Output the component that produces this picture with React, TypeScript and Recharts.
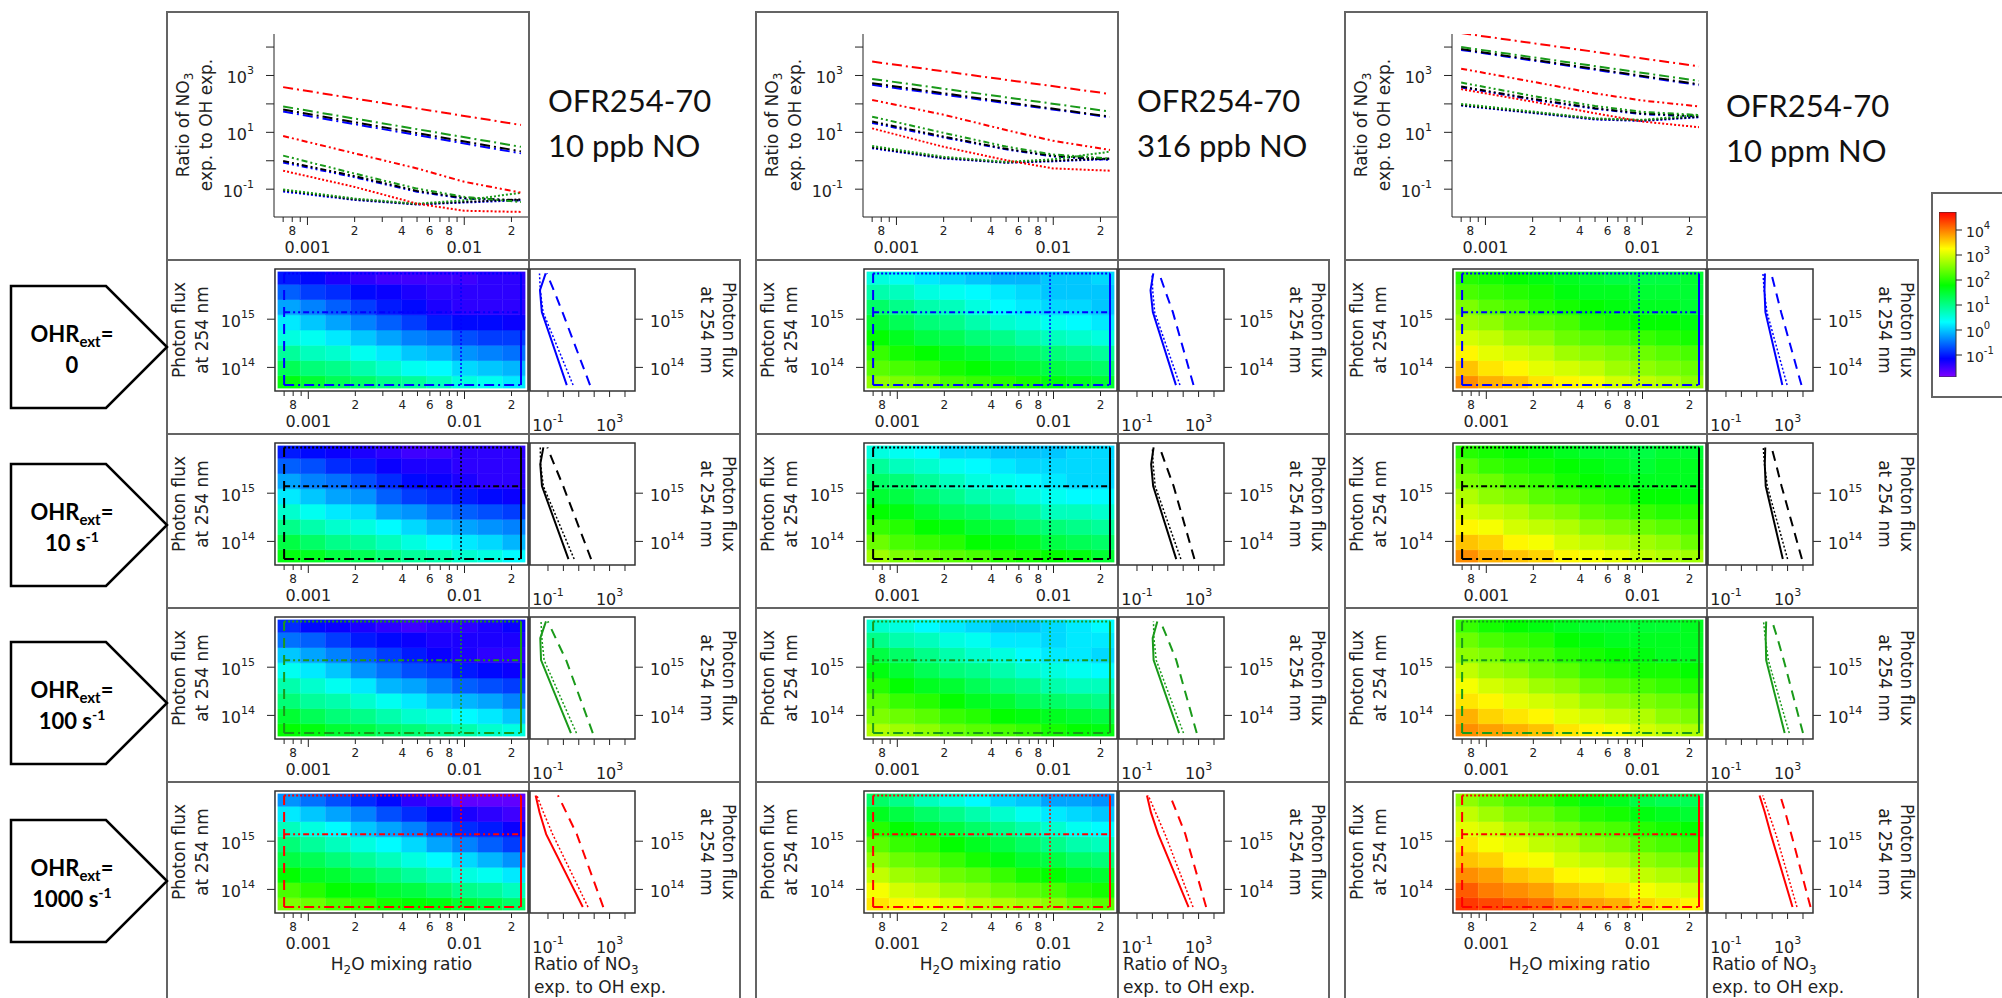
import React from 'react';
import { ComposedChart, Line, Bar, Cell, XAxis, YAxis } from 'recharts';

// ---------- page layout (px) ----------
const colLeft = [167, 756, 1345];
const rowTop = [260, 434, 608, 782];
const arrowTop = [286, 464, 642, 820];

// ---------- labels ----------
const reactorTitle = 'OFR254-70';
const noLabels = ['10 ppb NO', '316 ppb NO', '10 ppm NO'];
const ohrValues = ['0', '10 s', '100 s', '1000 s'];
const ohrExponents = ['', '-1', '-1', '-1'];
const seriesColors = ['#0000ff', '#000000', '#1a9a1a', '#ff0000']; // OHRext = 0, 10, 100, 1000 s-1

// ---------- axes ----------
const h2oDomain = [0.000612, 0.0255];
const h2oTicks = [0.0007, 0.0008, 0.0009, 0.001, 0.002, 0.003, 0.004, 0.005, 0.006, 0.007, 0.008, 0.009, 0.01, 0.02];
const h2oMinorText = ['', '8', '', '', '2', '', '4', '', '6', '', '8', '', '', '2'];
const h2oMajorText = ['', '', '', '0.001', '', '', '', '', '', '', '', '', '0.01', ''];
const ratioDomainTop = [0.0105, 28800];
const sideRatioDomain = [0.0079, 44700];
const decadeTicks = [0.1, 1, 10, 100, 1000, 10000];
const fluxDomain = [3.24e13, 1.1e16];
const fluxTicks = [1e14, 1e15];
const colorbarRange = [-1.88, 4.72]; // log10 of the ratio, bottom..top
const colorbarTicks = [-1, 0, 1, 2, 3, 4];

// ---------- curve samples ----------
const h2oSpan = [0.0007, 0.023];
const h2oSamples = [0.0007, 0.002, 0.005, 0.01, 0.023];
const fluxLevels = [4.3e13, 1.4e15, 8.9e15]; // low, mid, high photon flux
const h2oLevels = [0.0007, 0.0095, 0.023]; // dashed, dotted, solid
const fluxSamples = [4.3e13, 1.4e15, 4.0e15, 8.9e15];

// log10(NO3 exp. / OH exp.) vs H2O; rows: OHRext 0, 10, 100, 1000 s-1
const ratio10ppbLow = [[1.73, 0.26], [1.8, 0.33], [1.91, 0.49], [2.59, 1.26]];
const ratio10ppbMid = [
  [-0.06, -0.58, -1.09, -1.33, -1.4],
  [-0.01, -0.54, -1.06, -1.31, -1.39],
  [0.18, -0.45, -0.98, -1.27, -1.45],
  [0.87, 0.26, -0.27, -0.74, -1.12],
];
const ratio10ppbHigh = [
  [-1.08, -1.38, -1.54, -1.47, -1.39],
  [-1.04, -1.36, -1.53, -1.45, -1.36],
  [-1.01, -1.33, -1.51, -1.39, -1.13],
  [-0.35, -0.92, -1.51, -1.76, -1.8],
];
const ratio316ppbLow = [[2.67, 1.53], [2.73, 1.55], [2.88, 1.73], [3.49, 2.35]];
const ratio316ppbMid = [
  [1.33, 0.82, 0.4, 0.15, 0.03],
  [1.38, 0.85, 0.42, 0.17, 0.05],
  [1.55, 0.98, 0.5, 0.22, 0.08],
  [2.14, 1.62, 1.08, 0.7, 0.38],
];
const ratio316ppbHigh = [
  [0.44, 0.08, -0.07, -0.02, 0.06],
  [0.47, 0.1, -0.06, 0.0, 0.08],
  [0.52, 0.14, -0.04, 0.05, 0.32],
  [1.14, 0.49, 0.02, -0.27, -0.35],
];
const ratio10ppmLow = [[3.9, 2.66], [3.93, 2.69], [4.0, 2.81], [4.49, 3.32]];
const ratio10ppmMid = [
  [2.58, 2.15, 1.83, 1.64, 1.56],
  [2.61, 2.18, 1.85, 1.66, 1.58],
  [2.75, 2.28, 1.93, 1.72, 1.61],
  [3.24, 2.78, 2.37, 2.12, 1.91],
];
const ratio10ppmHigh = [
  [1.94, 1.68, 1.45, 1.4, 1.53],
  [1.96, 1.7, 1.47, 1.42, 1.55],
  [2.0, 1.73, 1.49, 1.44, 1.61],
  [2.52, 2.08, 1.67, 1.38, 1.18],
];

// log10 ratio vs photon flux (fluxSamples) at the three H2O levels
const side10ppbDashed = [[1.73, -0.06, -0.62, -1.08], [1.8, -0.01, -0.6, -1.04], [1.91, 0.18, -0.5, -1.01], [2.59, 0.87, 0.18, -0.35]];
const side10ppbDotted = [[0.63, -1.32, -1.5, -1.55], [0.7, -1.3, -1.48, -1.5], [0.85, -1.25, -1.4, -1.45], [1.6, -0.7, -1.3, -1.72]];
const side10ppbSolid = [[0.22, -1.4, -1.52, -1.15], [0.33, -1.39, -1.5, -1.3], [0.49, -1.45, -1.5, -1.13], [1.26, -1.12, -1.55, -1.8]];
const side316ppbDashed = [[2.67, 1.33, 0.82, 0.44], [2.73, 1.38, 0.86, 0.47], [2.88, 1.55, 0.98, 0.52], [3.49, 2.14, 1.58, 1.14]];
const side316ppbDotted = [[1.79, 0.15, 0.02, -0.02], [1.85, 0.18, 0.05, 0.0], [2.02, 0.25, 0.1, 0.07], [2.64, 0.82, 0.2, -0.27]];
const side316ppbSolid = [[1.53, 0.03, -0.12, 0.06], [1.55, 0.05, -0.08, 0.08], [1.73, 0.08, 0.02, 0.32], [2.35, 0.38, -0.1, -0.35]];
const side10ppmDashed = [[3.9, 2.58, 2.22, 1.94], [3.93, 2.61, 2.25, 1.96], [4.0, 2.75, 2.34, 2.0], [4.49, 3.24, 2.85, 2.52]];
const side10ppmDotted = [[2.97, 1.66, 1.48, 1.4], [3.0, 1.68, 1.5, 1.42], [3.11, 1.75, 1.55, 1.44], [3.61, 2.24, 1.75, 1.38]];
const side10ppmSolid = [[2.66, 1.56, 1.5, 1.53], [2.69, 1.58, 1.52, 1.55], [2.81, 1.61, 1.58, 1.61], [3.32, 1.91, 1.52, 1.18]];

// heat maps: log10 ratio, 8 flux rows (bottom -> top) x 10 H2O columns
const map10ppb0 = [
  [1.7, 1.5, 1.3, 1.2, 1.0, 0.9, 0.7, 0.5, 0.4, 0.2],
  [1.3, 1.1, 1.0, 0.8, 0.6, 0.4, 0.3, 0.1, 0.0, -0.1],
  [0.9, 0.7, 0.6, 0.4, 0.2, 0.0, -0.1, -0.3, -0.4, -0.5],
  [0.5, 0.4, 0.2, 0.0, -0.2, -0.4, -0.5, -0.7, -0.8, -0.8],
  [0.2, 0.0, -0.2, -0.4, -0.6, -0.8, -1.0, -1.1, -1.1, -1.2],
  [-0.2, -0.4, -0.6, -0.8, -1.0, -1.1, -1.3, -1.4, -1.4, -1.4],
  [-0.6, -0.8, -0.9, -1.1, -1.2, -1.3, -1.4, -1.4, -1.4, -1.4],
  [-1.0, -1.1, -1.3, -1.4, -1.5, -1.5, -1.5, -1.5, -1.4, -1.4],
];
const map10ppb10 = [
  [1.7, 1.6, 1.4, 1.3, 1.1, 0.9, 0.8, 0.6, 0.5, 0.3],
  [1.4, 1.2, 1.0, 0.9, 0.7, 0.5, 0.3, 0.2, 0.1, -0.1],
  [1.0, 0.8, 0.6, 0.5, 0.3, 0.1, -0.1, -0.2, -0.3, -0.4],
  [0.6, 0.4, 0.2, 0.1, -0.2, -0.3, -0.5, -0.6, -0.7, -0.8],
  [0.2, 0.0, -0.2, -0.3, -0.6, -0.8, -0.9, -1.0, -1.1, -1.2],
  [-0.2, -0.4, -0.5, -0.7, -0.9, -1.1, -1.2, -1.3, -1.4, -1.4],
  [-0.6, -0.7, -0.9, -1.0, -1.2, -1.3, -1.3, -1.4, -1.4, -1.4],
  [-1.0, -1.1, -1.2, -1.3, -1.4, -1.5, -1.5, -1.4, -1.4, -1.4],
];
const map10ppb100 = [
  [1.8, 1.7, 1.5, 1.4, 1.2, 1.1, 0.9, 0.8, 0.6, 0.5],
  [1.5, 1.3, 1.1, 1.0, 0.8, 0.6, 0.5, 0.3, 0.2, 0.0],
  [1.1, 0.9, 0.8, 0.6, 0.4, 0.2, 0.0, -0.1, -0.2, -0.4],
  [0.8, 0.6, 0.4, 0.2, -0.1, -0.2, -0.4, -0.6, -0.7, -0.8],
  [0.4, 0.2, 0.0, -0.3, -0.5, -0.7, -0.8, -1.0, -1.1, -1.2],
  [0.0, -0.2, -0.4, -0.6, -0.8, -1.0, -1.2, -1.3, -1.4, -1.4],
  [-0.5, -0.6, -0.8, -1.0, -1.1, -1.2, -1.3, -1.3, -1.3, -1.3],
  [-0.9, -1.1, -1.2, -1.3, -1.4, -1.5, -1.4, -1.4, -1.3, -1.2],
];
const map10ppb1000 = [
  [2.5, 2.4, 2.2, 2.1, 1.9, 1.8, 1.7, 1.5, 1.4, 1.2],
  [2.2, 2.0, 1.8, 1.7, 1.5, 1.4, 1.2, 1.0, 0.9, 0.7],
  [1.8, 1.6, 1.5, 1.3, 1.1, 0.9, 0.7, 0.5, 0.4, 0.2],
  [1.4, 1.3, 1.1, 0.9, 0.7, 0.5, 0.3, 0.1, -0.1, -0.3],
  [1.1, 0.9, 0.7, 0.5, 0.3, 0.1, -0.2, -0.4, -0.6, -0.8],
  [0.7, 0.5, 0.3, 0.0, -0.2, -0.4, -0.7, -0.9, -1.0, -1.2],
  [0.2, 0.0, -0.2, -0.4, -0.7, -0.9, -1.1, -1.3, -1.4, -1.5],
  [-0.3, -0.5, -0.7, -0.9, -1.1, -1.4, -1.5, -1.7, -1.7, -1.7],
];
const map316ppb0 = [
  [2.6, 2.5, 2.4, 2.2, 2.1, 2.0, 1.9, 1.7, 1.6, 1.5],
  [2.3, 2.2, 2.1, 1.9, 1.8, 1.6, 1.5, 1.4, 1.3, 1.2],
  [2.1, 1.9, 1.8, 1.6, 1.5, 1.3, 1.2, 1.1, 1.0, 0.9],
  [1.8, 1.6, 1.4, 1.3, 1.1, 1.0, 0.8, 0.7, 0.6, 0.5],
  [1.5, 1.3, 1.1, 1.0, 0.8, 0.6, 0.5, 0.4, 0.3, 0.2],
  [1.2, 1.0, 0.8, 0.7, 0.5, 0.3, 0.2, 0.1, 0.1, 0.0],
  [0.8, 0.7, 0.5, 0.4, 0.3, 0.2, 0.1, 0.0, 0.0, 0.0],
  [0.5, 0.4, 0.2, 0.1, 0.0, -0.1, -0.1, 0.0, 0.0, 0.1],
];
const map316ppb10 = [
  [2.7, 2.5, 2.4, 2.3, 2.2, 2.0, 1.9, 1.8, 1.7, 1.5],
  [2.4, 2.2, 2.1, 2.0, 1.8, 1.7, 1.6, 1.4, 1.3, 1.2],
  [2.1, 2.0, 1.8, 1.7, 1.5, 1.4, 1.2, 1.1, 1.0, 0.9],
  [1.8, 1.7, 1.5, 1.3, 1.2, 1.0, 0.9, 0.7, 0.7, 0.6],
  [1.5, 1.4, 1.2, 1.0, 0.8, 0.7, 0.5, 0.4, 0.3, 0.3],
  [1.2, 1.1, 0.9, 0.7, 0.5, 0.4, 0.3, 0.2, 0.1, 0.1],
  [0.9, 0.7, 0.6, 0.4, 0.3, 0.2, 0.1, 0.1, 0.1, 0.1],
  [0.5, 0.4, 0.3, 0.1, 0.1, 0.0, 0.0, 0.0, 0.1, 0.1],
];
const map316ppb100 = [
  [2.8, 2.7, 2.6, 2.4, 2.3, 2.2, 2.1, 1.9, 1.8, 1.7],
  [2.5, 2.4, 2.3, 2.1, 2.0, 1.8, 1.7, 1.6, 1.5, 1.4],
  [2.3, 2.1, 2.0, 1.8, 1.6, 1.5, 1.3, 1.2, 1.1, 1.0],
  [2.0, 1.8, 1.6, 1.5, 1.3, 1.1, 1.0, 0.8, 0.7, 0.7],
  [1.7, 1.5, 1.3, 1.1, 1.0, 0.8, 0.6, 0.5, 0.4, 0.3],
  [1.4, 1.2, 1.0, 0.8, 0.6, 0.5, 0.3, 0.2, 0.2, 0.1],
  [1.0, 0.8, 0.7, 0.5, 0.4, 0.2, 0.2, 0.1, 0.2, 0.2],
  [0.6, 0.5, 0.3, 0.2, 0.1, 0.0, 0.0, 0.1, 0.2, 0.3],
];
const map316ppb1000 = [
  [3.4, 3.3, 3.2, 3.1, 2.9, 2.8, 2.7, 2.6, 2.4, 2.3],
  [3.2, 3.0, 2.9, 2.7, 2.6, 2.4, 2.3, 2.2, 2.0, 1.9],
  [2.9, 2.7, 2.6, 2.4, 2.3, 2.1, 1.9, 1.8, 1.6, 1.5],
  [2.6, 2.4, 2.3, 2.1, 1.9, 1.7, 1.5, 1.4, 1.2, 1.1],
  [2.3, 2.1, 2.0, 1.8, 1.6, 1.4, 1.2, 1.0, 0.8, 0.7],
  [2.0, 1.8, 1.6, 1.4, 1.2, 1.0, 0.8, 0.6, 0.4, 0.3],
  [1.6, 1.4, 1.2, 1.0, 0.8, 0.6, 0.4, 0.2, 0.1, 0.0],
  [1.2, 1.0, 0.7, 0.5, 0.3, 0.1, 0.0, -0.2, -0.2, -0.3],
];
const map10ppm0 = [
  [3.9, 3.7, 3.6, 3.4, 3.3, 3.2, 3.0, 2.9, 2.8, 2.6],
  [3.6, 3.4, 3.3, 3.1, 3.0, 2.9, 2.7, 2.6, 2.5, 2.4],
  [3.3, 3.1, 3.0, 2.9, 2.7, 2.6, 2.5, 2.4, 2.3, 2.2],
  [3.0, 2.9, 2.7, 2.6, 2.4, 2.3, 2.2, 2.1, 2.0, 1.9],
  [2.7, 2.6, 2.4, 2.3, 2.2, 2.0, 1.9, 1.8, 1.8, 1.7],
  [2.5, 2.3, 2.2, 2.0, 1.9, 1.8, 1.7, 1.6, 1.6, 1.5],
  [2.2, 2.1, 2.0, 1.9, 1.7, 1.6, 1.6, 1.5, 1.5, 1.5],
  [2.0, 1.9, 1.8, 1.7, 1.6, 1.5, 1.4, 1.4, 1.4, 1.5],
];
const map10ppm10 = [
  [3.9, 3.7, 3.6, 3.5, 3.3, 3.2, 3.1, 2.9, 2.8, 2.7],
  [3.6, 3.5, 3.3, 3.2, 3.0, 2.9, 2.8, 2.7, 2.6, 2.4],
  [3.3, 3.2, 3.0, 2.9, 2.8, 2.6, 2.5, 2.4, 2.3, 2.2],
  [3.0, 2.9, 2.8, 2.6, 2.5, 2.3, 2.2, 2.1, 2.0, 2.0],
  [2.8, 2.6, 2.5, 2.3, 2.2, 2.1, 2.0, 1.8, 1.8, 1.7],
  [2.5, 2.4, 2.2, 2.1, 1.9, 1.8, 1.7, 1.6, 1.6, 1.6],
  [2.3, 2.1, 2.0, 1.9, 1.8, 1.7, 1.6, 1.5, 1.6, 1.6],
  [2.0, 1.9, 1.8, 1.7, 1.6, 1.5, 1.5, 1.4, 1.5, 1.5],
];
const map10ppm100 = [
  [3.9, 3.8, 3.7, 3.6, 3.4, 3.3, 3.2, 3.0, 2.9, 2.8],
  [3.7, 3.5, 3.4, 3.3, 3.1, 3.0, 2.9, 2.8, 2.6, 2.5],
  [3.4, 3.3, 3.1, 3.0, 2.9, 2.7, 2.6, 2.5, 2.4, 2.3],
  [3.2, 3.0, 2.9, 2.7, 2.6, 2.4, 2.3, 2.2, 2.1, 2.0],
  [2.9, 2.7, 2.6, 2.4, 2.3, 2.1, 2.0, 1.9, 1.9, 1.8],
  [2.6, 2.5, 2.3, 2.2, 2.0, 1.9, 1.8, 1.7, 1.6, 1.6],
  [2.4, 2.2, 2.1, 2.0, 1.8, 1.7, 1.6, 1.6, 1.6, 1.6],
  [2.1, 1.9, 1.8, 1.7, 1.6, 1.5, 1.5, 1.5, 1.5, 1.6],
];
const map10ppm1000 = [
  [4.4, 4.3, 4.2, 4.1, 3.9, 3.8, 3.7, 3.5, 3.4, 3.3],
  [4.2, 4.0, 3.9, 3.8, 3.6, 3.5, 3.4, 3.2, 3.1, 3.0],
  [3.9, 3.8, 3.6, 3.5, 3.3, 3.2, 3.1, 2.9, 2.8, 2.7],
  [3.6, 3.5, 3.3, 3.2, 3.0, 2.9, 2.8, 2.6, 2.5, 2.4],
  [3.4, 3.2, 3.1, 2.9, 2.8, 2.6, 2.5, 2.3, 2.2, 2.1],
  [3.1, 3.0, 2.8, 2.6, 2.5, 2.3, 2.2, 2.0, 1.9, 1.8],
  [2.9, 2.7, 2.5, 2.4, 2.2, 2.0, 1.9, 1.7, 1.6, 1.5],
  [2.6, 2.4, 2.2, 2.1, 1.9, 1.7, 1.6, 1.4, 1.3, 1.3],
];

const topLow = [ratio10ppbLow, ratio316ppbLow, ratio10ppmLow];
const topMid = [ratio10ppbMid, ratio316ppbMid, ratio10ppmMid];
const topHigh = [ratio10ppbHigh, ratio316ppbHigh, ratio10ppmHigh];
const sideDashed = [side10ppbDashed, side316ppbDashed, side10ppmDashed];
const sideDotted = [side10ppbDotted, side316ppbDotted, side10ppmDotted];
const sideSolid = [side10ppbSolid, side316ppbSolid, side10ppmSolid];
const heatMaps = [
  [map10ppb0, map10ppb10, map10ppb100, map10ppb1000],
  [map316ppb0, map316ppb10, map316ppb100, map316ppb1000],
  [map10ppm0, map10ppm10, map10ppm100, map10ppm1000],
];

// ---------- styles ----------
const AXIS_FONT = 'DejaVu Sans, sans-serif';
const TITLE_FONT = 'Lato, sans-serif';
const INK = '#222';
const GRID = '#646464';
const fluxDash = ['10 4 2 4', '6 3 2 3 2 3', '2 2']; // low, mid, high flux
const h2oDash = ['10 7', '2 2', undefined]; // 0.0007, 0.0095, 0.023

const pow10 = (v: number) => Math.pow(10, v);

// rainbow from red (top of scale) to violet (bottom)
const ratioColor = (lg: number) => {
  const f = Math.min(1, Math.max(0, (colorbarRange[1] - lg) / (colorbarRange[1] - colorbarRange[0])));
  return `hsl(${(f * 270).toFixed(1)}, 100%, 50%)`;
};

const heatColumns = heatMaps[0][0][0].map((_, i) => {
  const entry: any = { col: i };
  heatMaps[0][0].forEach((_r, k) => {
    entry[`r${k}`] = 1;
  });
  return entry;
});

// ---------- tick renderers ----------
const powLabel = (x: number, y: number, e: number, anchor: string, size: number) => (
  <text x={x} y={y} textAnchor={anchor} fontSize={size} fontFamily={AXIS_FONT} fill={INK}>
    10
    <tspan fontSize={Math.round(size * 0.7)} dy={-Math.round(size * 0.55)}>
      {e}
    </tspan>
  </text>
);

const H2OTick = (props: any) => {
  const { x, y, payload } = props;
  const i = h2oTicks.findIndex((t) => Math.abs(t - payload.value) < t * 1e-6);
  const major = h2oMajorText[i];
  const minor = h2oMinorText[i];
  return (
    <g>
      <line x1={x} x2={x} y1={y} y2={y + (major ? 8 : 5)} stroke={INK} strokeWidth={1} />
      {minor ? (
        <text x={x} y={y + 18} textAnchor="middle" fontSize={12} fontFamily={AXIS_FONT} fill={INK}>
          {minor}
        </text>
      ) : null}
      {major ? (
        <text x={x} y={y + 36} textAnchor="middle" fontSize={16} fontFamily={AXIS_FONT} fill={INK}>
          {major}
        </text>
      ) : null}
    </g>
  );
};

const leftPowTick = (labelled: number[]) => (props: any) => {
  const { x, y, payload } = props;
  const e = Math.round(Math.log10(payload.value));
  return (
    <g>
      <line x1={x - 8} x2={x} y1={y} y2={y} stroke={INK} strokeWidth={1} />
      {labelled.includes(e) ? powLabel(x - 20, y + 8, e, 'end', 16) : null}
    </g>
  );
};

const RightPowTick = (props: any) => {
  const { x, y, payload } = props;
  const e = Math.round(Math.log10(payload.value));
  return (
    <g>
      <line x1={x} x2={x + 8} y1={y} y2={y} stroke={INK} strokeWidth={1} />
      {powLabel(x + 15, y + 8, e, 'start', 16)}
    </g>
  );
};

const BottomPowTick = (props: any) => {
  const { x, y, payload } = props;
  const e = Math.round(Math.log10(payload.value));
  return (
    <g>
      <line x1={x} x2={x} y1={y} y2={y + 6} stroke={INK} strokeWidth={1} />
      {e === -1 || e === 3 ? powLabel(x, y + 40, e, 'middle', 16) : null}
    </g>
  );
};

const ColorbarTick = (props: any) => {
  const { x, y, payload } = props;
  return (
    <g>
      <line x1={x} x2={x + 6} y1={y} y2={y} stroke={INK} strokeWidth={1} />
      {powLabel(x + 10, y + 7, payload.value, 'start', 14)}
    </g>
  );
};

// ---------- panels ----------
function TopPanel({ col }: { col: number }) {
  const L = colLeft[col];
  const lines: any[] = [];
  seriesColors.forEach((color, j) => {
    lines.push({ key: `lo${j}`, color, dash: fluxDash[0], pts: h2oSpan.map((x, i) => ({ x, y: pow10(topLow[col][j][i]) })) });
    lines.push({ key: `mi${j}`, color, dash: fluxDash[1], pts: h2oSamples.map((x, i) => ({ x, y: pow10(topMid[col][j][i]) })) });
    lines.push({ key: `hi${j}`, color, dash: fluxDash[2], pts: h2oSamples.map((x, i) => ({ x, y: pow10(topHigh[col][j][i]) })) });
  });
  return (
    <div style={{ position: 'absolute', left: L + 37, top: 30 }}>
      <ComposedChart width={330} height={237} margin={{ top: 4, right: 6, bottom: 0, left: 0 }}>
        <XAxis
          dataKey="x"
          type="number"
          scale="log"
          domain={h2oDomain}
          allowDataOverflow
          ticks={h2oTicks}
          interval={0}
          tick={H2OTick}
          tickLine={false}
          tickSize={0}
          tickMargin={0}
          axisLine={{ stroke: INK }}
          height={50}
        />
        <YAxis
          type="number"
          scale="log"
          domain={ratioDomainTop}
          allowDataOverflow
          ticks={decadeTicks}
          interval={0}
          tick={leftPowTick([-1, 1, 3])}
          tickLine={false}
          tickSize={0}
          tickMargin={0}
          axisLine={{ stroke: INK }}
          width={70}
        />
        {lines.map((l) => (
          <Line
            key={l.key}
            data={l.pts}
            dataKey="y"
            stroke={l.color}
            strokeWidth={2}
            strokeDasharray={l.dash}
            dot={false}
            activeDot={false}
            isAnimationActive={false}
          />
        ))}
      </ComposedChart>
    </div>
  );
}

function HeatPanel({ col, row }: { col: number; row: number }) {
  const L = colLeft[col];
  const T = rowTop[row];
  const grid = heatMaps[col][row];
  const color = seriesColors[row];
  // guide lines at the flux and H2O levels of the curves in the neighbouring panels
  const guides: any[] = [];
  fluxLevels.forEach((f, k) => {
    guides.push({ key: `h${k}`, dash: fluxDash[k], width: 2, pts: [{ x: h2oLevels[0], y: f }, { x: h2oLevels[2], y: f }] });
  });
  h2oLevels.forEach((h, k) => {
    guides.push({ key: `v${k}`, dash: h2oDash[k], width: k === 1 ? 1.5 : 2, pts: [{ x: h, y: fluxLevels[0] }, { x: h, y: fluxLevels[2] }] });
  });
  return (
    <div style={{ position: 'absolute', left: L + 38, top: T + 5 }}>
      <ComposedChart
        width={327}
        height={176}
        data={heatColumns}
        margin={{ top: 4, right: 4, bottom: 0, left: 0 }}
        barCategoryGap={0}
        barGap={0}
      >
        <XAxis
          xAxisId="h2o"
          dataKey="x"
          type="number"
          scale="log"
          domain={h2oDomain}
          allowDataOverflow
          ticks={h2oTicks}
          interval={0}
          tick={H2OTick}
          tickLine={false}
          tickSize={0}
          tickMargin={0}
          axisLine={false}
          height={50}
        />
        <YAxis
          yAxisId="flux"
          type="number"
          scale="log"
          domain={fluxDomain}
          allowDataOverflow
          ticks={fluxTicks}
          interval={0}
          tick={leftPowTick([14, 15])}
          tickLine={false}
          tickSize={0}
          tickMargin={0}
          axisLine={false}
          width={70}
        />
        <XAxis xAxisId="cells" dataKey="col" type="category" orientation="top" height={0} hide />
        <YAxis yAxisId="cells" type="number" orientation="right" width={0} domain={[0, grid.length]} allowDataOverflow hide />
        {grid.map((cells, k) => (
          <Bar key={`r${k}`} xAxisId="cells" yAxisId="cells" dataKey={`r${k}`} stackId="hm" isAnimationActive={false}>
            {cells.map((v, i) => (
              <Cell key={i} fill={ratioColor(v)} stroke={ratioColor(v)} strokeWidth={0.6} />
            ))}
          </Bar>
        ))}
        {guides.map((g) => (
          <Line
            key={g.key}
            xAxisId="h2o"
            yAxisId="flux"
            data={g.pts}
            dataKey="y"
            stroke={color}
            strokeWidth={g.width}
            strokeDasharray={g.dash}
            dot={false}
            activeDot={false}
            isAnimationActive={false}
          />
        ))}
      </ComposedChart>
    </div>
  );
}

function SidePanel({ col, row }: { col: number; row: number }) {
  const L = colLeft[col];
  const T = rowTop[row];
  const color = seriesColors[row];
  const curves = [sideDashed[col][row], sideDotted[col][row], sideSolid[col][row]];
  return (
    <div style={{ position: 'absolute', left: L + 360, top: T + 5 }}>
      <ComposedChart width={178} height={176} margin={{ top: 4, right: 0, bottom: 0, left: 4 }}>
        <XAxis
          dataKey="r"
          type="number"
          scale="log"
          domain={sideRatioDomain}
          allowDataOverflow
          ticks={decadeTicks}
          interval={0}
          tick={BottomPowTick}
          tickLine={false}
          tickSize={0}
          tickMargin={0}
          axisLine={false}
          height={50}
        />
        <YAxis
          orientation="right"
          type="number"
          scale="log"
          domain={fluxDomain}
          allowDataOverflow
          ticks={fluxTicks}
          interval={0}
          tick={RightPowTick}
          tickLine={false}
          tickSize={0}
          tickMargin={0}
          axisLine={false}
          width={70}
        />
        {curves.map((vals, k) => (
          <Line
            key={k}
            data={fluxSamples.map((f, i) => ({ f, r: pow10(vals[i]) }))}
            dataKey="f"
            stroke={color}
            strokeWidth={k === 1 ? 1.5 : 2}
            strokeDasharray={h2oDash[k]}
            dot={false}
            activeDot={false}
            isAnimationActive={false}
          />
        ))}
      </ComposedChart>
    </div>
  );
}

const rainbowStops = [0, 0.1111, 0.2222, 0.3333, 0.4444, 0.5556, 0.6667, 0.7778, 0.8889, 1];

function ColorBar() {
  return (
    <div style={{ position: 'absolute', left: 1939, top: 212 }}>
      <ComposedChart
        width={57}
        height={165}
        data={[{ name: 'ratio', span: colorbarRange }]}
        margin={{ top: 0, right: 0, bottom: 0, left: 0 }}
        barCategoryGap={0}
      >
        <defs>
          <linearGradient id="ratioRainbow" x1="0" y1="0" x2="0" y2="1">
            {rainbowStops.map((o) => (
              <stop key={o} offset={o} stopColor={`hsl(${(o * 270).toFixed(1)}, 100%, 50%)`} />
            ))}
          </linearGradient>
        </defs>
        <XAxis dataKey="name" hide height={0} />
        <YAxis
          orientation="right"
          type="number"
          domain={colorbarRange}
          allowDataOverflow
          ticks={colorbarTicks}
          interval={0}
          tick={ColorbarTick}
          tickLine={false}
          tickSize={0}
          tickMargin={0}
          axisLine={false}
          width={40}
        />
        <Bar dataKey="span" fill="url(#ratioRainbow)" stroke="#333" strokeWidth={1} isAnimationActive={false} />
      </ComposedChart>
    </div>
  );
}

// ---------- frame, titles and axis captions ----------
function Frame() {
  return (
    <svg width={2002} height={998} style={{ position: 'absolute', left: 0, top: 0, pointerEvents: 'none' }}>
      {colLeft.map((L, c) => (
        <g key={`c${c}`}>
          <line x1={L} y1={11} x2={L} y2={998} stroke={GRID} strokeWidth={2} />
          <line x1={L + 362} y1={11} x2={L + 362} y2={998} stroke={GRID} strokeWidth={2} />
          <line x1={L + 573} y1={259} x2={L + 573} y2={998} stroke={GRID} strokeWidth={2} />
          <line x1={L - 1} y1={12} x2={L + 363} y2={12} stroke={GRID} strokeWidth={2} />
          {rowTop.map((T, r) => (
            <line key={r} x1={L - 1} y1={T} x2={L + 574} y2={T} stroke={GRID} strokeWidth={2} />
          ))}
          <text x={L + 381} y={c === 2 ? 117 : 112} fontFamily={TITLE_FONT} fontSize={31} fill="#111">
            {reactorTitle}
          </text>
          <text x={L + 381} y={c === 2 ? 162 : 157} fontFamily={TITLE_FONT} fontSize={31} fill="#111">
            {noLabels[c]}
          </text>
          <text transform={`translate(${L + 22},125) rotate(-90)`} textAnchor="middle" fontFamily={AXIS_FONT} fontSize={17} fill={INK}>
            Ratio of NO
            <tspan fontSize={12} dy={4}>
              3
            </tspan>
          </text>
          <text transform={`translate(${L + 45},125) rotate(-90)`} textAnchor="middle" fontFamily={AXIS_FONT} fontSize={17} fill={INK}>
            exp. to OH exp.
          </text>
          {rowTop.map((T, r) => (
            <g key={`p${r}`}>
              <rect x={L + 109.3} y={T + 10.3} width={250.4} height={119.4} fill="none" stroke="#fff" strokeWidth={2.6} />
              <rect x={L + 108} y={T + 9} width={253} height={122} fill="none" stroke="#333" strokeWidth={1.5} />
              <rect x={L + 363} y={T + 9} width={105} height={122} fill="none" stroke="#333" strokeWidth={1.5} />
              <text transform={`translate(${L + 18},${T + 70}) rotate(-90)`} textAnchor="middle" fontFamily={AXIS_FONT} fontSize={17} fill={INK}>
                Photon flux
              </text>
              <text transform={`translate(${L + 41},${T + 70}) rotate(-90)`} textAnchor="middle" fontFamily={AXIS_FONT} fontSize={17} fill={INK}>
                at 254 nm
              </text>
              <text transform={`translate(${L + 556},${T + 70}) rotate(90)`} textAnchor="middle" fontFamily={AXIS_FONT} fontSize={17} fill={INK}>
                Photon flux
              </text>
              <text transform={`translate(${L + 534},${T + 70}) rotate(90)`} textAnchor="middle" fontFamily={AXIS_FONT} fontSize={17} fill={INK}>
                at 254 nm
              </text>
            </g>
          ))}
          <text x={L + 234.5} y={970} textAnchor="middle" fontFamily={AXIS_FONT} fontSize={17} fill={INK}>
            H
            <tspan fontSize={12} dy={4}>
              2
            </tspan>
            <tspan dy={-4}>O mixing ratio</tspan>
          </text>
          <text x={L + 367} y={970} fontFamily={AXIS_FONT} fontSize={17} fill={INK}>
            Ratio of NO
            <tspan fontSize={12} dy={4}>
              3
            </tspan>
          </text>
          <text x={L + 367} y={993} fontFamily={AXIS_FONT} fontSize={17} fill={INK}>
            exp. to OH exp.
          </text>
        </g>
      ))}
      {arrowTop.map((T, r) => (
        <g key={`a${r}`}>
          <polygon
            points={`11,${T} 106,${T} 167,${T + 61} 106,${T + 122} 11,${T + 122}`}
            fill="#fff"
            stroke="#000"
            strokeWidth={2.5}
          />
          <text x={72} y={T + 56} textAnchor="middle" fontFamily={TITLE_FONT} fontWeight={700} fontSize={22} fill="#000">
            OHR
            <tspan fontSize={15} dy={5}>
              ext
            </tspan>
            <tspan dy={-5}>=</tspan>
          </text>
          <text x={72} y={T + 87} textAnchor="middle" fontFamily={TITLE_FONT} fontWeight={700} fontSize={22} fill="#000">
            {ohrValues[r]}
            {ohrExponents[r] ? (
              <tspan fontSize={14} dy={-9}>
                {ohrExponents[r]}
              </tspan>
            ) : null}
          </text>
        </g>
      ))}
      <rect x={1932} y={193} width={120} height={204} fill="none" stroke={GRID} strokeWidth={2} />
    </svg>
  );
}

export default function App() {
  return (
    <div style={{ position: 'absolute', left: 0, top: 0, width: 2002, height: 998, background: '#fff', overflow: 'hidden' }}>
      {colLeft.map((_, c) => (
        <TopPanel key={`t${c}`} col={c} />
      ))}
      {colLeft.map((_, c) =>
        rowTop.map((_r, r) => <HeatPanel key={`h${c}${r}`} col={c} row={r} />)
      )}
      {colLeft.map((_, c) =>
        rowTop.map((_r, r) => <SidePanel key={`s${c}${r}`} col={c} row={r} />)
      )}
      <ColorBar />
      <Frame />
    </div>
  );
}
